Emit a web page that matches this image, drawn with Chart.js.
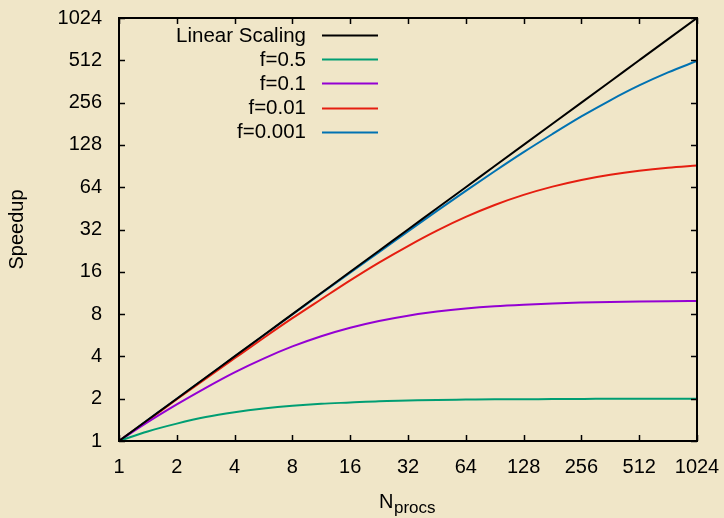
<!DOCTYPE html>
<html>
<head>
<meta charset="utf-8">
<script src="https://cdn.jsdelivr.net/npm/chart.js@4"></script>
<style>
  html, body { margin: 0; padding: 0; background: #F0E6C8; }
  #wrap { width: 724px; height: 518px; }
</style>
</head>
<body>
<div id="wrap"><canvas id="speedupChart" width="724" height="518"></canvas></div>
<script>
// number of processors (sampled every half octave)
const nProcs = [1, 1.41, 2, 2.83, 4, 5.66, 8, 11.3, 16, 22.6, 32, 45.3, 64, 90.5, 128, 181, 256, 362, 512, 724, 1024];

// speedup values
const linearScaling = [1, 1.41, 2, 2.83, 4, 5.66, 8, 11.3, 16, 22.6, 32, 45.3, 64, 90.5, 128, 181, 256, 362, 512, 724, 1024];
const f05 = [1, 1.17, 1.33, 1.48, 1.6, 1.7, 1.78, 1.84, 1.88, 1.92, 1.94, 1.96, 1.97, 1.98, 1.98, 1.99, 1.99, 2.0, 2.0, 2.0, 2.0];
const f01 = [1, 1.36, 1.82, 2.39, 3.08, 3.86, 4.71, 5.57, 6.4, 7.15, 7.8, 8.34, 8.77, 9.1, 9.34, 9.53, 9.66, 9.76, 9.83, 9.88, 9.91];
const f001 = [1, 1.4, 1.98, 2.78, 3.88, 5.41, 7.48, 10.2, 13.9, 18.6, 24.4, 31.4, 39.3, 47.8, 56.4, 64.6, 72.1, 78.5, 83.8, 88.0, 91.2];
const f0001 = [1, 1.41, 2.0, 2.82, 3.99, 5.63, 7.94, 11.2, 15.8, 22.1, 31.0, 43.4, 60.2, 83.1, 113.6, 153, 204, 266, 339, 420, 506];

const seriesLabels = ["Linear Scaling", "f=0.5", "f=0.1", "f=0.01", "f=0.001"];
const seriesColors = ["#000000", "#009E73", "#9400D3", "#E51E10", "#0072B2"];

// tick labels on both axes
const tickValues = [1, 2, 4, 8, 16, 32, 64, 128, 256, 512, 1024];

const bgColor = "#F0E6C8";
const fontName = "'Liberation Sans', Arial, sans-serif";

// plot frame in pixels
const plotLeft = 119, plotRight = 697, plotTop = 18, plotBottom = 441;

function toPoints(ys) {
  return ys.map((y, i) => ({ x: nProcs[i], y: y }));
}

// background, frame, inward ticks on all four sides, titles and legend
const framePlugin = {
  id: "frame",
  beforeDraw(chart) {
    const ctx = chart.ctx;
    ctx.save();
    ctx.fillStyle = bgColor;
    ctx.fillRect(0, 0, chart.width, chart.height);
    ctx.restore();
  },
  afterDraw(chart) {
    const ctx = chart.ctx;
    const a = chart.chartArea;
    const xs = chart.scales.x, ys = chart.scales.y;
    ctx.save();
    ctx.strokeStyle = "#000";
    ctx.lineWidth = 2;
    ctx.strokeRect(a.left, a.top, a.right - a.left, a.bottom - a.top);
    ctx.lineWidth = 1.5;
    ctx.beginPath();
    tickValues.forEach(v => {
      const px = Math.round(xs.getPixelForValue(v)) + 0.5;
      const py = Math.round(ys.getPixelForValue(v)) + 0.5;
      ctx.moveTo(px, a.bottom); ctx.lineTo(px, a.bottom - 6);
      ctx.moveTo(px, a.top); ctx.lineTo(px, a.top + 6);
      ctx.moveTo(a.left, py); ctx.lineTo(a.left + 6, py);
      ctx.moveTo(a.right, py); ctx.lineTo(a.right - 6, py);
    });
    ctx.stroke();

    // axis titles
    ctx.fillStyle = "#000";
    ctx.textBaseline = "middle";
    ctx.font = "20px " + fontName;
    ctx.save();
    ctx.translate(17, (a.top + a.bottom) / 2);
    ctx.rotate(-Math.PI / 2);
    ctx.textAlign = "center";
    ctx.fillText("Speedup", 0, 0);
    ctx.restore();
    ctx.textAlign = "left";
    ctx.textBaseline = "alphabetic";
    ctx.font = "20px " + fontName;
    ctx.fillText("N", 379, 508);
    ctx.font = "17px " + fontName;
    ctx.fillText("procs", 394, 513);

    // legend: label right-aligned, then a line sample
    ctx.textBaseline = "middle";
    ctx.font = "20.5px " + fontName;
    ctx.textAlign = "right";
    chart.data.datasets.forEach((ds, i) => {
      const y = 35 + i * 24.2;
      ctx.fillStyle = "#000";
      ctx.fillText(ds.label, 306, y + 1);
      ctx.strokeStyle = ds.borderColor;
      ctx.lineWidth = 2;
      ctx.beginPath();
      ctx.moveTo(322, Math.round(y) + 0.5);
      ctx.lineTo(378, Math.round(y) + 0.5);
      ctx.stroke();
    });
    ctx.restore();
  }
};

const allSeries = [linearScaling, f05, f01, f001, f0001];

document.addEventListener("DOMContentLoaded", () => {
  const ctx = document.getElementById("speedupChart").getContext("2d");
  new Chart(ctx, {
    type: "line",
    data: {
      datasets: allSeries.map((s, i) => ({
        label: seriesLabels[i],
        data: toPoints(s),
        borderColor: seriesColors[i],
        borderWidth: 2,
        pointRadius: 0,
        cubicInterpolationMode: "monotone",
        fill: false
      }))
    },
    options: {
      responsive: false,
      animation: false,
      layout: { padding: 0 },
      plugins: { legend: { display: false }, tooltip: { enabled: false } },
      scales: {
        x: {
          type: "logarithmic",
          min: 1, max: 1024,
          afterBuildTicks: s => { s.ticks = tickValues.map(v => ({ value: v })); },
          afterFit: s => { s.height = 518 - plotBottom; s.paddingLeft = 0; s.paddingRight = 0; },
          grid: { display: false },
          border: { display: false },
          ticks: {
            autoSkip: false, maxRotation: 0, padding: 6,
            color: "#000", font: { family: fontName, size: 20 },
            callback: v => String(v)
          }
        },
        y: {
          type: "logarithmic",
          min: 1, max: 1024,
          afterBuildTicks: s => { s.ticks = tickValues.map(v => ({ value: v })); },
          afterFit: s => { s.width = plotLeft; s.paddingTop = 0; s.paddingBottom = 0; },
          grid: { display: false },
          border: { display: false },
          ticks: {
            autoSkip: false, padding: 9,
            color: "#000", font: { family: fontName, size: 20 },
            callback: v => String(v)
          }
        }
      }
    },
    plugins: [framePlugin, {
      id: "fixArea",
      afterLayout(chart) {
        // pin the plot frame to where it sits in the reference
        const a = chart.chartArea;
        a.left = plotLeft; a.right = plotRight; a.top = plotTop; a.bottom = plotBottom;
        a.width = plotRight - plotLeft; a.height = plotBottom - plotTop;
        const xs = chart.scales.x, ys = chart.scales.y;
        xs.left = plotLeft; xs.right = plotRight; xs.width = plotRight - plotLeft;
        xs.top = plotBottom; xs.bottom = 518; xs.height = 518 - plotBottom;
        ys.top = plotTop; ys.bottom = plotBottom; ys.height = plotBottom - plotTop;
        ys.left = 0; ys.right = plotLeft; ys.width = plotLeft;
        xs.configure(); ys.configure();
      }
    }]
  });
});
</script>
</body>
</html>
